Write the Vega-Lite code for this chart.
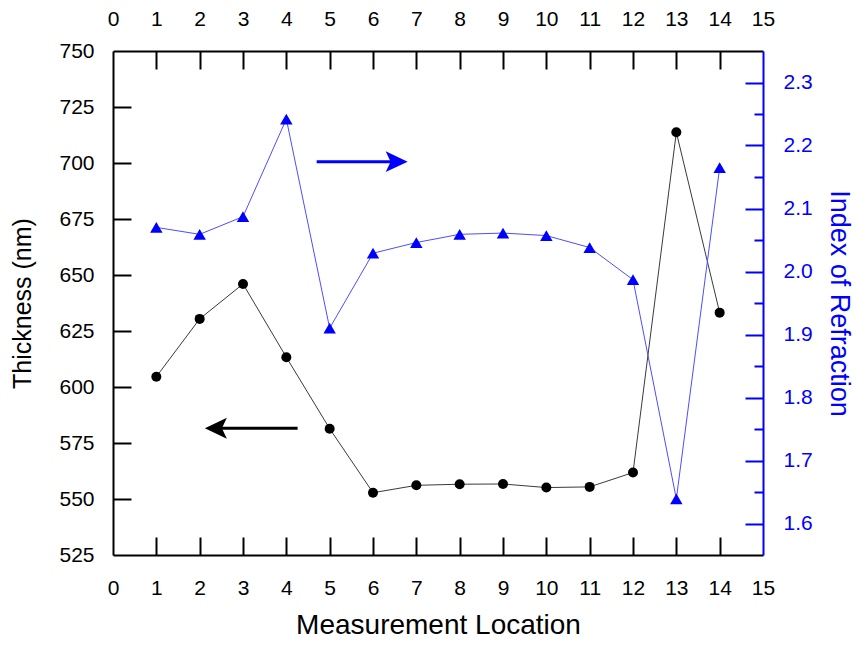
{
  "$schema": "https://vega.github.io/schema/vega-lite/v6.json",
  "width": 650,
  "height": 504,
  "autosize": {"type": "none"},
  "padding": {"left": 113, "top": 51, "right": 94, "bottom": 90},
  "background": "white",
  "config": {
    "view": {"stroke": null},
    "axis": {
      "labelFont": "Liberation Sans",
      "titleFont": "Liberation Sans",
      "labelFontSize": 21,
      "titleFontSize": 26,
      "titleFontWeight": "normal",
      "grid": false,
      "domainWidth": 2,
      "tickWidth": 2,
      "labelColor": "#000000",
      "titleColor": "#000000",
      "domainColor": "#000000",
      "tickColor": "#000000",
      "labelFlush": false,
      "labelOverlap": false
    }
  },
  "datasets": {
    "measurements": [
      {"location": 1, "thickness": 604.6, "index": 2.070},
      {"location": 2, "thickness": 630.4, "index": 2.059},
      {"location": 3, "thickness": 646.0, "index": 2.087},
      {"location": 4, "thickness": 613.3, "index": 2.242},
      {"location": 5, "thickness": 581.4, "index": 1.910},
      {"location": 6, "thickness": 552.8, "index": 2.029},
      {"location": 7, "thickness": 556.1, "index": 2.046},
      {"location": 8, "thickness": 556.6, "index": 2.059},
      {"location": 9, "thickness": 556.7, "index": 2.061},
      {"location": 10, "thickness": 555.1, "index": 2.057},
      {"location": 11, "thickness": 555.4, "index": 2.038},
      {"location": 12, "thickness": 561.8, "index": 1.987},
      {"location": 13, "thickness": 713.7, "index": 1.639},
      {"location": 14, "thickness": 633.2, "index": 2.165}
    ],
    "arrowRight": [{"tail": 4.70, "tip": 6.80, "thickness": 700.6}],
    "arrowLeft": [{"tail": 4.26, "tip": 2.12, "thickness": 581.6}]
  },
  "layer": [
    {
      "data": {"name": "measurements"},
      "mark": {"type": "line", "color": "#3a3a3a", "strokeWidth": 1},
      "encoding": {
        "x": {
          "field": "location", "type": "quantitative",
          "scale": {"domain": [0, 15], "nice": false},
          "axis": {
            "orient": "bottom",
            "values": [0,1,2,3,4,5,6,7,8,9,10,11,12,13,14,15],
            "title": "Measurement Location",
            "titleFontSize": 28,
            "tickSize": -18,
            "labelPadding": 40,
            "titlePadding": 13,
            "tickOpacity": {"condition": {"test": "datum.value == 0 || datum.value == 15", "value": 0}, "value": 1}
          }
        },
        "y": {
          "field": "thickness", "type": "quantitative",
          "scale": {"domain": [525, 750], "nice": false, "zero": false},
          "axis": {
            "orient": "left",
            "values": [525,550,575,600,625,650,675,700,725,750],
            "title": "Thickness (nm)",
            "titleFontSize": 25,
            "tickSize": -18,
            "labelPadding": 37,
            "titlePadding": 23,
            "tickOpacity": {"condition": {"test": "datum.value == 525 || datum.value == 750", "value": 0}, "value": 1}
          }
        }
      }
    },
    {
      "data": {"name": "measurements"},
      "mark": {"type": "line", "color": "#4d4dff", "strokeWidth": 1},
      "encoding": {
        "x": {
          "field": "location", "type": "quantitative",
          "scale": {"domain": [0, 15], "nice": false},
          "axis": {
            "orient": "top",
            "values": [0,1,2,3,4,5,6,7,8,9,10,11,12,13,14,15],
            "title": null,
            "tickSize": -18,
            "labelPadding": 40,
            "tickOpacity": {"condition": {"test": "datum.value == 0 || datum.value == 15", "value": 0}, "value": 1}
          }
        },
        "y": {
          "field": "index", "type": "quantitative",
          "scale": {"domain": [1.55, 2.35], "nice": false, "zero": false},
          "axis": {
            "orient": "right",
            "values": [1.6,1.7,1.8,1.9,2.0,2.1,2.2,2.3],
            "format": ".1f",
            "title": "Index of Refraction",
            "titleFontSize": 27,
            "tickSize": -18,
            "labelPadding": 38,
            "titlePadding": 12,
            "labelColor": "#0000ff",
            "titleColor": "#0000ff",
            "domainColor": "#0000ff",
            "tickColor": "#0000ff"
          }
        }
      }
    },
    {
      "data": {"name": "measurements"},
      "mark": {"type": "point", "shape": "circle", "filled": true, "color": "#000000", "size": 100, "opacity": 1},
      "encoding": {
        "x": {"field": "location", "type": "quantitative", "scale": {"domain": [0, 15], "nice": false}, "axis": null},
        "y": {"field": "thickness", "type": "quantitative", "scale": {"domain": [525, 750], "nice": false, "zero": false}, "axis": null}
      }
    },
    {
      "data": {"name": "measurements"},
      "mark": {"type": "point", "shape": "triangle-up", "filled": true, "color": "#0000ff", "size": 155, "opacity": 1},
      "encoding": {
        "x": {"field": "location", "type": "quantitative", "scale": {"domain": [0, 15], "nice": false}, "axis": null},
        "y": {
          "field": "index", "type": "quantitative",
          "scale": {"domain": [1.55, 2.35], "nice": false, "zero": false},
          "axis": {
            "orient": "right",
            "values": [1.65,1.75,1.85,1.95,2.05,2.15,2.25],
            "labels": false,
            "domain": false,
            "title": null,
            "tickSize": -9,
            "tickColor": "#0000ff"
          }
        }
      }
    },
    {
      "data": {"name": "arrowRight"},
      "mark": {"type": "rule", "color": "#0000ff", "strokeWidth": 3, "x2Offset": -10},
      "encoding": {
        "x": {"field": "tail", "type": "quantitative", "scale": {"domain": [0, 15], "nice": false}, "axis": null},
        "x2": {"field": "tip"},
        "y": {"field": "thickness", "type": "quantitative", "scale": {"domain": [525, 750], "nice": false, "zero": false}, "axis": null}
      }
    },
    {
      "data": {"name": "arrowRight"},
      "mark": {"type": "point", "shape": "M0,0L-2,-0.95L-1.55,0L-2,0.95Z", "filled": true, "color": "#0000ff", "size": 484, "opacity": 1},
      "encoding": {
        "x": {"field": "tip", "type": "quantitative", "scale": {"domain": [0, 15], "nice": false}, "axis": null},
        "y": {"field": "thickness", "type": "quantitative", "scale": {"domain": [525, 750], "nice": false, "zero": false}, "axis": null}
      }
    },
    {
      "data": {"name": "arrowLeft"},
      "mark": {"type": "rule", "color": "#000000", "strokeWidth": 3, "x2Offset": 10},
      "encoding": {
        "x": {"field": "tail", "type": "quantitative", "scale": {"domain": [0, 15], "nice": false}, "axis": null},
        "x2": {"field": "tip"},
        "y": {"field": "thickness", "type": "quantitative", "scale": {"domain": [525, 750], "nice": false, "zero": false}, "axis": null}
      }
    },
    {
      "data": {"name": "arrowLeft"},
      "mark": {"type": "point", "shape": "M0,0L2,-0.95L1.55,0L2,0.95Z", "filled": true, "color": "#000000", "size": 484, "opacity": 1},
      "encoding": {
        "x": {"field": "tip", "type": "quantitative", "scale": {"domain": [0, 15], "nice": false}, "axis": null},
        "y": {"field": "thickness", "type": "quantitative", "scale": {"domain": [525, 750], "nice": false, "zero": false}, "axis": null}
      }
    }
  ],
  "resolve": {"scale": {"y": "independent"}}
}
